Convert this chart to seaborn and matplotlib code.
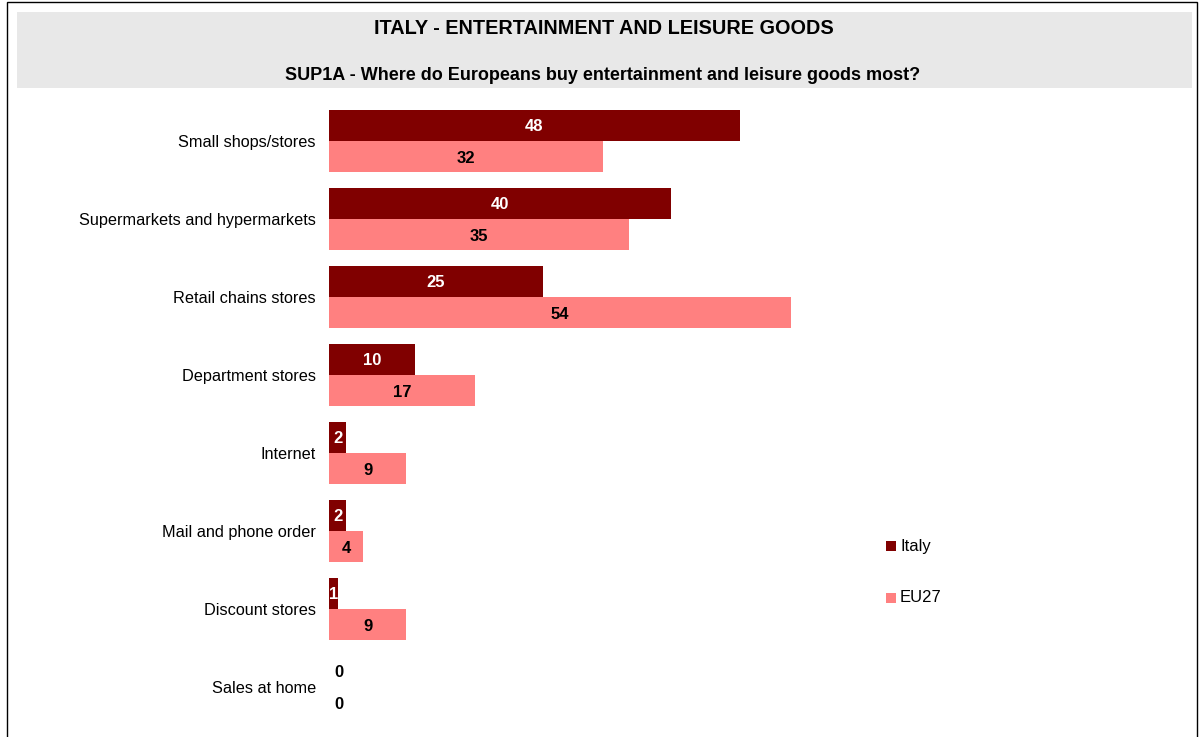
import matplotlib
matplotlib.use("Agg")
import matplotlib.pyplot as plt
from matplotlib.patches import Rectangle
import seaborn as sns
import pandas as pd

categories = ["Small shops/stores", "Supermarkets and hypermarkets", "Retail chains stores",
              "Department stores", "Internet", "Mail and phone order", "Discount stores",
              "Sales at home"]
italy = [48, 40, 25, 10, 2, 2, 1, 0]
eu27 = [32, 35, 54, 17, 9, 4, 9, 0]
series = ["Italy", "EU27"]
colors = {"Italy": "#800000", "EU27": "#FF8080"}

title = "ITALY - ENTERTAINMENT AND LEISURE GOODS"
subtitle = "SUP1A - Where do Europeans buy entertainment and leisure goods most?"

df = pd.DataFrame({
    "category": categories * 2,
    "series": ["Italy"] * len(categories) + ["EU27"] * len(categories),
    "value": italy + eu27,
})

sns.set_theme(style="white")
plt.rcParams["font.family"] = ["Liberation Sans", "DejaVu Sans"]
plt.rcParams["text.color"] = "black"
plt.rcParams["ytick.color"] = "black"

W, H = 1200, 737
fig = plt.figure(figsize=(W / 100, H / 100), dpi=100)

# outer frame and grey title band
fig.patches.append(Rectangle((7 / W, -0.01), (1197 - 7) / W, 1 - 2 / H + 0.01,
                             transform=fig.transFigure, fill=False, edgecolor="black",
                             linewidth=1.0, zorder=0))
fig.patches.append(Rectangle((17 / W, 1 - 88 / H), (1192 - 17) / W, (88 - 12) / H,
                             transform=fig.transFigure, facecolor="#E8E8E8",
                             edgecolor="none", zorder=0))
fig.text(604 / W, 1 - 29 / H, title, ha="center", va="center",
         fontsize=14.3, fontweight="bold")
fig.text(603 / W, 1 - 75 / H, subtitle, ha="center", va="center",
         fontsize=13, fontweight="bold")

ax_left, ax_top, ax_bottom = 329, 102, 726
px_per_unit = 8.56
xmax = 100
ax = fig.add_axes([ax_left / W, 1 - ax_bottom / H, xmax * px_per_unit / W,
                   (ax_bottom - ax_top) / H])

sns.barplot(data=df, y="category", x="value", hue="series", hue_order=series,
            order=categories, palette=colors, orient="h", width=0.8,
            saturation=1, ax=ax, legend=False, linewidth=0, edgecolor="none")

ax.set_xlim(0, xmax)
ax.set_ylim(len(categories) - 0.5, -0.5)
for s in ax.spines.values():
    s.set_visible(False)
ax.set_xticks([])
ax.set_xlabel("")
ax.set_ylabel("")
ax.tick_params(axis="y", length=0, pad=9.5, labelsize=11.7)

# value labels in the bars
label_dy = 0.02
for container, name in zip(ax.containers, series):
    vals = italy if name == "Italy" else eu27
    for bar, v in zip(container, vals):
        yc = bar.get_y() + bar.get_height() / 2 + label_dy
        if v == 0:
            ax.text(1.2, yc, "0", ha="center", va="center", fontsize=12,
                    fontweight="bold", color="black")
        else:
            ax.text(v / 2, yc, f"{v}", ha="center", va="center", fontsize=12,
                    fontweight="bold",
                    color="white" if name == "Italy" else "black")

# legend
for i, name in enumerate(series):
    yfig = 1 - (546 + 52 * i) / H
    fig.patches.append(Rectangle((886 / W, yfig - 5 / H), 10 / W, 10 / H,
                                 transform=fig.transFigure, facecolor=colors[name],
                                 edgecolor="none"))
    fig.text(900 / W, yfig, name, ha="left", va="center", fontsize=12)

fig.savefig("out.png", dpi=100)
